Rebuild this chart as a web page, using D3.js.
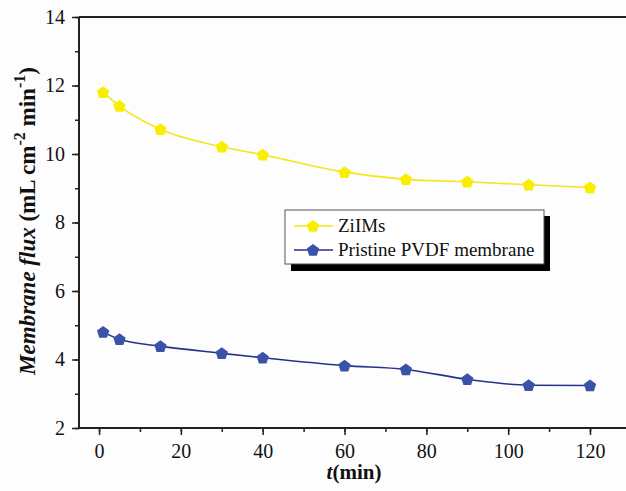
<!DOCTYPE html>
<html>
<head>
<meta charset="utf-8">
<script src="https://cdn.jsdelivr.net/npm/d3@7"></script>
<style>
  body { margin: 0; background: #fff; }
  text { font-family: "Liberation Serif", "Times New Roman", serif; fill: #111; }
</style>
</head>
<body>
<div id="chart"></div>
<script>
// time points (min)
const times = [1, 5, 15, 30, 40, 60, 75, 90, 105, 120];
// flux values
const ziims = [11.80, 11.40, 10.72, 10.21, 9.98, 9.47, 9.26, 9.19, 9.10, 9.02];
const pvdf = [4.80, 4.59, 4.39, 4.18, 4.05, 3.82, 3.71, 3.42, 3.25, 3.24];
const seriesNames = ["ZiIMs", "Pristine PVDF membrane"];
const xTicks = [0, 20, 40, 60, 80, 100, 120];
const yTicks = [2, 4, 6, 8, 10, 12, 14];

const width = 626;
const height = 491;
const plotLeft = 79, plotTop = 17, plotBottom = 428, plotRight = 626;

const svg = d3
  .select("#chart")
  .append("svg")
  .attr("width", width)
  .attr("height", height);

svg.append("rect").attr("width", width).attr("height", height).attr("fill", "#fdfdfd");

const x = d3.scaleLinear().domain([-4.9, 128.8]).range([plotLeft, plotRight]);
const y = d3.scaleLinear().domain([2, 14]).range([plotBottom, plotTop]);

const axisColor = "#222";
const serif = "Liberation Serif, Times New Roman, serif";

//y axis
const yAxis = svg.append("g").attr("transform", `translate(${plotLeft},0)`);
yAxis
  .call(d3.axisLeft(y).tickValues(d3.range(2, 14.1, 1)).tickSize(4).tickFormat(""))
  .call((g) => g.select(".domain").remove());
yAxis
  .append("g")
  .call(d3.axisLeft(y).tickValues(yTicks).tickSize(7).tickPadding(7))
  .call((g) => g.select(".domain").remove());

//x axis
const xAxis = svg.append("g").attr("transform", `translate(0,${plotBottom})`);
xAxis
  .call(d3.axisBottom(x).tickValues(d3.range(0, 125, 10)).tickSize(4).tickFormat(""))
  .call((g) => g.select(".domain").remove());
xAxis
  .append("g")
  .call(d3.axisBottom(x).tickValues(xTicks).tickSize(7).tickPadding(9))
  .call((g) => g.select(".domain").remove());

svg.selectAll("g").attr("font-family", serif).attr("font-size", 20);
svg.selectAll(".tick line").attr("stroke", axisColor).attr("stroke-width", 1.5);
svg.selectAll(".tick text").attr("fill", "#111");

// frame lines: left, bottom, top
svg.append("line").attr("x1", plotLeft).attr("x2", plotLeft).attr("y1", plotTop).attr("y2", plotBottom)
  .attr("stroke", axisColor).attr("stroke-width", 2);
svg.append("line").attr("x1", plotLeft).attr("x2", plotRight).attr("y1", plotBottom).attr("y2", plotBottom)
  .attr("stroke", axisColor).attr("stroke-width", 2);
svg.append("line").attr("x1", plotLeft).attr("x2", plotRight).attr("y1", plotTop).attr("y2", plotTop)
  .attr("stroke", axisColor).attr("stroke-width", 2);

// pentagon marker
const pentagon = (r) => {
  const pts = d3.range(5).map((i) => {
    const a = -Math.PI / 2 + (i * 2 * Math.PI) / 5;
    return [r * Math.cos(a), r * Math.sin(a)];
  });
  return "M" + pts.map((p) => p.join(",")).join("L") + "Z";
};

const series = [
  { name: seriesNames[0], values: ziims, line: "#f2e61c", fill: "#f8ee00" },
  { name: seriesNames[1], values: pvdf, line: "#28318c", fill: "#3a52a8" },
];

const line = d3
  .line()
  .x((d) => x(d[0]))
  .y((d) => y(d[1]))
  .curve(d3.curveMonotoneX);

series.forEach((s) => {
  const pts = times.map((t, i) => [t, s.values[i]]);
  svg
    .append("path")
    .datum(pts)
    .attr("d", line)
    .attr("fill", "none")
    .attr("stroke", s.line)
    .attr("stroke-width", 1.6);
  svg
    .selectAll(null)
    .data(pts)
    .enter()
    .append("path")
    .attr("d", pentagon(6.5))
    .attr("transform", (d) => `translate(${x(d[0])},${y(d[1]) + 0.5})`)
    .attr("fill", s.fill);
});

//legend
const legend = svg.append("g");
legend.append("rect").attr("x", 291).attr("y", 216).attr("width", 259).attr("height", 55).attr("fill", "#000");
legend.append("rect").attr("x", 285).attr("y", 210).attr("width", 259).attr("height", 54)
  .attr("fill", "#fff").attr("stroke", "#555").attr("stroke-width", 1);

series.forEach((s, i) => {
  const ly = 226 + i * 24;
  legend.append("line").attr("x1", 294).attr("x2", 333).attr("y1", ly).attr("y2", ly)
    .attr("stroke", s.line).attr("stroke-width", 1.6);
  legend.append("path").attr("d", pentagon(6.5)).attr("transform", `translate(313,${ly + 0.5})`)
    .attr("fill", s.fill);
  legend.append("text").attr("x", 338).attr("y", ly + 6).style("font-size", "19px").text(s.name);
});

// axis titles
const yTitle = svg
  .append("text")
  .attr("transform", "translate(35,221) rotate(-90)")
  .attr("text-anchor", "middle")
  .style("font-size", "23px")
  .style("font-weight", "bold");
yTitle.append("tspan").style("font-style", "italic").text("Membrane flux");
yTitle.append("tspan").text(" (mL cm");
yTitle.append("tspan").attr("dy", -10).style("font-size", "16px").text("-2");
yTitle.append("tspan").attr("dy", 10).text(" min");
yTitle.append("tspan").attr("dy", -10).style("font-size", "16px").text("-1");
yTitle.append("tspan").attr("dy", 10).text(")");

const xTitle = svg
  .append("text")
  .attr("x", 354)
  .attr("y", 479)
  .attr("text-anchor", "middle")
  .style("font-size", "21px")
  .style("font-weight", "bold");
xTitle.append("tspan").style("font-style", "italic").text("t");
xTitle.append("tspan").text("(min)");
</script>
</body>
</html>
